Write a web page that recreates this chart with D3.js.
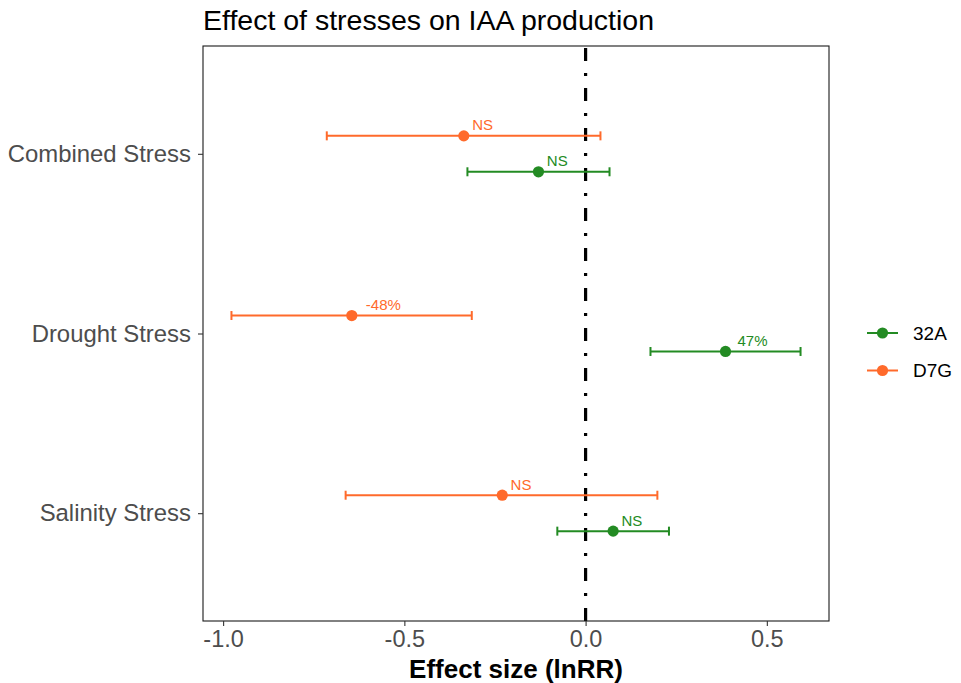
<!DOCTYPE html>
<html>
<head>
<meta charset="utf-8">
<script src="https://cdn.jsdelivr.net/npm/d3@7/dist/d3.min.js"></script>
<style>
  html, body { margin: 0; padding: 0; background: #ffffff; }
  svg { display: block; font-family: "Liberation Sans", Arial, sans-serif; }
</style>
</head>
<body>
<svg id="chart" width="961" height="683"></svg>
<script>
// Stress categories, top to bottom
const stresses = ["Combined Stress", "Drought Stress", "Salinity Stress"];
// Strains (legend order)
const strains = ["32A", "D7G"];
const strainColors = ["#238B23", "#FF6A2B"];

// Effect size (lnRR) with lower / upper confidence limits, per stress
const est32A   = [-0.130, 0.386, 0.076];
const lo32A    = [-0.326, 0.179, -0.078];
const hi32A    = [0.066, 0.593, 0.230];
const label32A = ["NS", "47%", "NS"];

const estD7G   = [-0.336, -0.645, -0.230];
const loD7G    = [-0.714, -0.977, -0.662];
const hiD7G    = [0.041, -0.314, 0.198];
const labelD7G = ["NS", "-48%", "NS"];

const xTicks = [-1.0, -0.5, 0.0, 0.5];

const rows = [];
stresses.forEach((s, i) => {
  rows.push({ stress: s, strain: "D7G", est: estD7G[i], lo: loD7G[i], hi: hiD7G[i], label: labelD7G[i] });
  rows.push({ stress: s, strain: "32A", est: est32A[i], lo: lo32A[i], hi: hi32A[i], label: label32A[i] });
});

const svg = d3.select("#chart");
const panel = { left: 203, right: 829, top: 46, bottom: 621 };

// x domain with 5% expansion around the interval extents
const xmin = d3.min(rows, d => d.lo), xmax = d3.max(rows, d => d.hi);
const pad = (xmax - xmin) * 0.05;
const x = d3.scaleLinear().domain([xmin - pad, xmax + pad]).range([panel.left, panel.right]);

const y = d3.scalePoint().domain(stresses).range([panel.top, panel.bottom]).padding(0.6);
const step = y.step();
const dodge = d3.scaleOrdinal().domain(["D7G", "32A"]).range([-0.1 * step, 0.1 * step]);
const color = d3.scaleOrdinal().domain(strains).range(strainColors);

// Title
svg.append("text")
  .attr("x", panel.left).attr("y", 30)
  .attr("font-size", 28.5).attr("fill", "#000")
  .text("Effect of stresses on IAA production");

// Zero reference line (dot-dash)
svg.append("line")
  .attr("x1", x(0)).attr("x2", x(0))
  .attr("y1", panel.top).attr("y2", panel.bottom)
  .attr("stroke", "#000").attr("stroke-width", 3.2)
  .attr("stroke-dasharray", "13 12 3 12")
  .attr("stroke-dashoffset", -2);

// Error bars
const g = svg.append("g");
const bars = g.selectAll("g.row").data(rows).join("g").attr("class", "row")
  .attr("transform", d => `translate(0,${y(d.stress) + dodge(d.strain)})`);

bars.append("line")
  .attr("x1", d => x(d.lo)).attr("x2", d => x(d.hi))
  .attr("stroke", d => color(d.strain)).attr("stroke-width", 2);
bars.append("line")
  .attr("x1", d => x(d.lo)).attr("x2", d => x(d.lo)).attr("y1", -4.5).attr("y2", 4.5)
  .attr("stroke", d => color(d.strain)).attr("stroke-width", 2);
bars.append("line")
  .attr("x1", d => x(d.hi)).attr("x2", d => x(d.hi)).attr("y1", -4.5).attr("y2", 4.5)
  .attr("stroke", d => color(d.strain)).attr("stroke-width", 2);
bars.append("circle")
  .attr("cx", d => x(d.est)).attr("r", 5.6)
  .attr("fill", d => color(d.strain));

// Value labels, placed just above-right of the point
bars.append("text")
  .attr("y", -5.5)
  .attr("font-size", 15)
  .attr("fill", d => color(d.strain))
  .text(d => d.label)
  .attr("x", function (d) { return x(d.est) + 0.4 * this.getComputedTextLength(); });

// Panel border
svg.append("rect")
  .attr("x", panel.left).attr("y", panel.top)
  .attr("width", panel.right - panel.left).attr("height", panel.bottom - panel.top)
  .attr("fill", "none").attr("stroke", "#1a1a1a").attr("stroke-width", 1.1);

// X axis
const xAxis = svg.append("g")
  .attr("transform", `translate(0,${panel.bottom})`)
  .call(d3.axisBottom(x).tickValues(xTicks).tickFormat(d3.format(".1f")).tickSize(5).tickPadding(4));
xAxis.select(".domain").remove();
xAxis.selectAll(".tick line").attr("stroke", "#333").attr("stroke-width", 1.1);
xAxis.selectAll(".tick text").attr("font-size", 23.5).attr("fill", "#4D4D4D")
  .attr("font-family", "'Liberation Sans', Arial, sans-serif")
  .text(d => d3.format(".1f")(d).replace("\u2212", "-"));

// Y axis
const yAxis = svg.append("g")
  .attr("transform", `translate(${panel.left},0)`)
  .call(d3.axisLeft(y).tickSize(5).tickPadding(7));
yAxis.select(".domain").remove();
yAxis.selectAll(".tick line").attr("stroke", "#333").attr("stroke-width", 1.1);
yAxis.selectAll(".tick text").attr("font-size", 23.9).attr("fill", "#4D4D4D")
  .attr("font-family", "'Liberation Sans', Arial, sans-serif");

// X axis title
svg.append("text")
  .attr("x", (panel.left + panel.right) / 2).attr("y", 678)
  .attr("text-anchor", "middle")
  .attr("font-size", 26).attr("font-weight", "bold").attr("fill", "#000")
  .text("Effect size (lnRR)");

// Legend
const legend = svg.append("g").attr("transform", "translate(867,333)");
const items = legend.selectAll("g").data(strains).join("g")
  .attr("transform", (d, i) => `translate(0,${i * 37.5})`);
items.append("line").attr("x1", 0).attr("x2", 31)
  .attr("stroke", d => color(d)).attr("stroke-width", 2);
items.append("circle").attr("cx", 15.5).attr("r", 5.6).attr("fill", d => color(d));
items.append("text").attr("x", 46).attr("y", 6.5)
  .attr("font-size", 19).attr("fill", "#000").text(d => d);
</script>
</body>
</html>
